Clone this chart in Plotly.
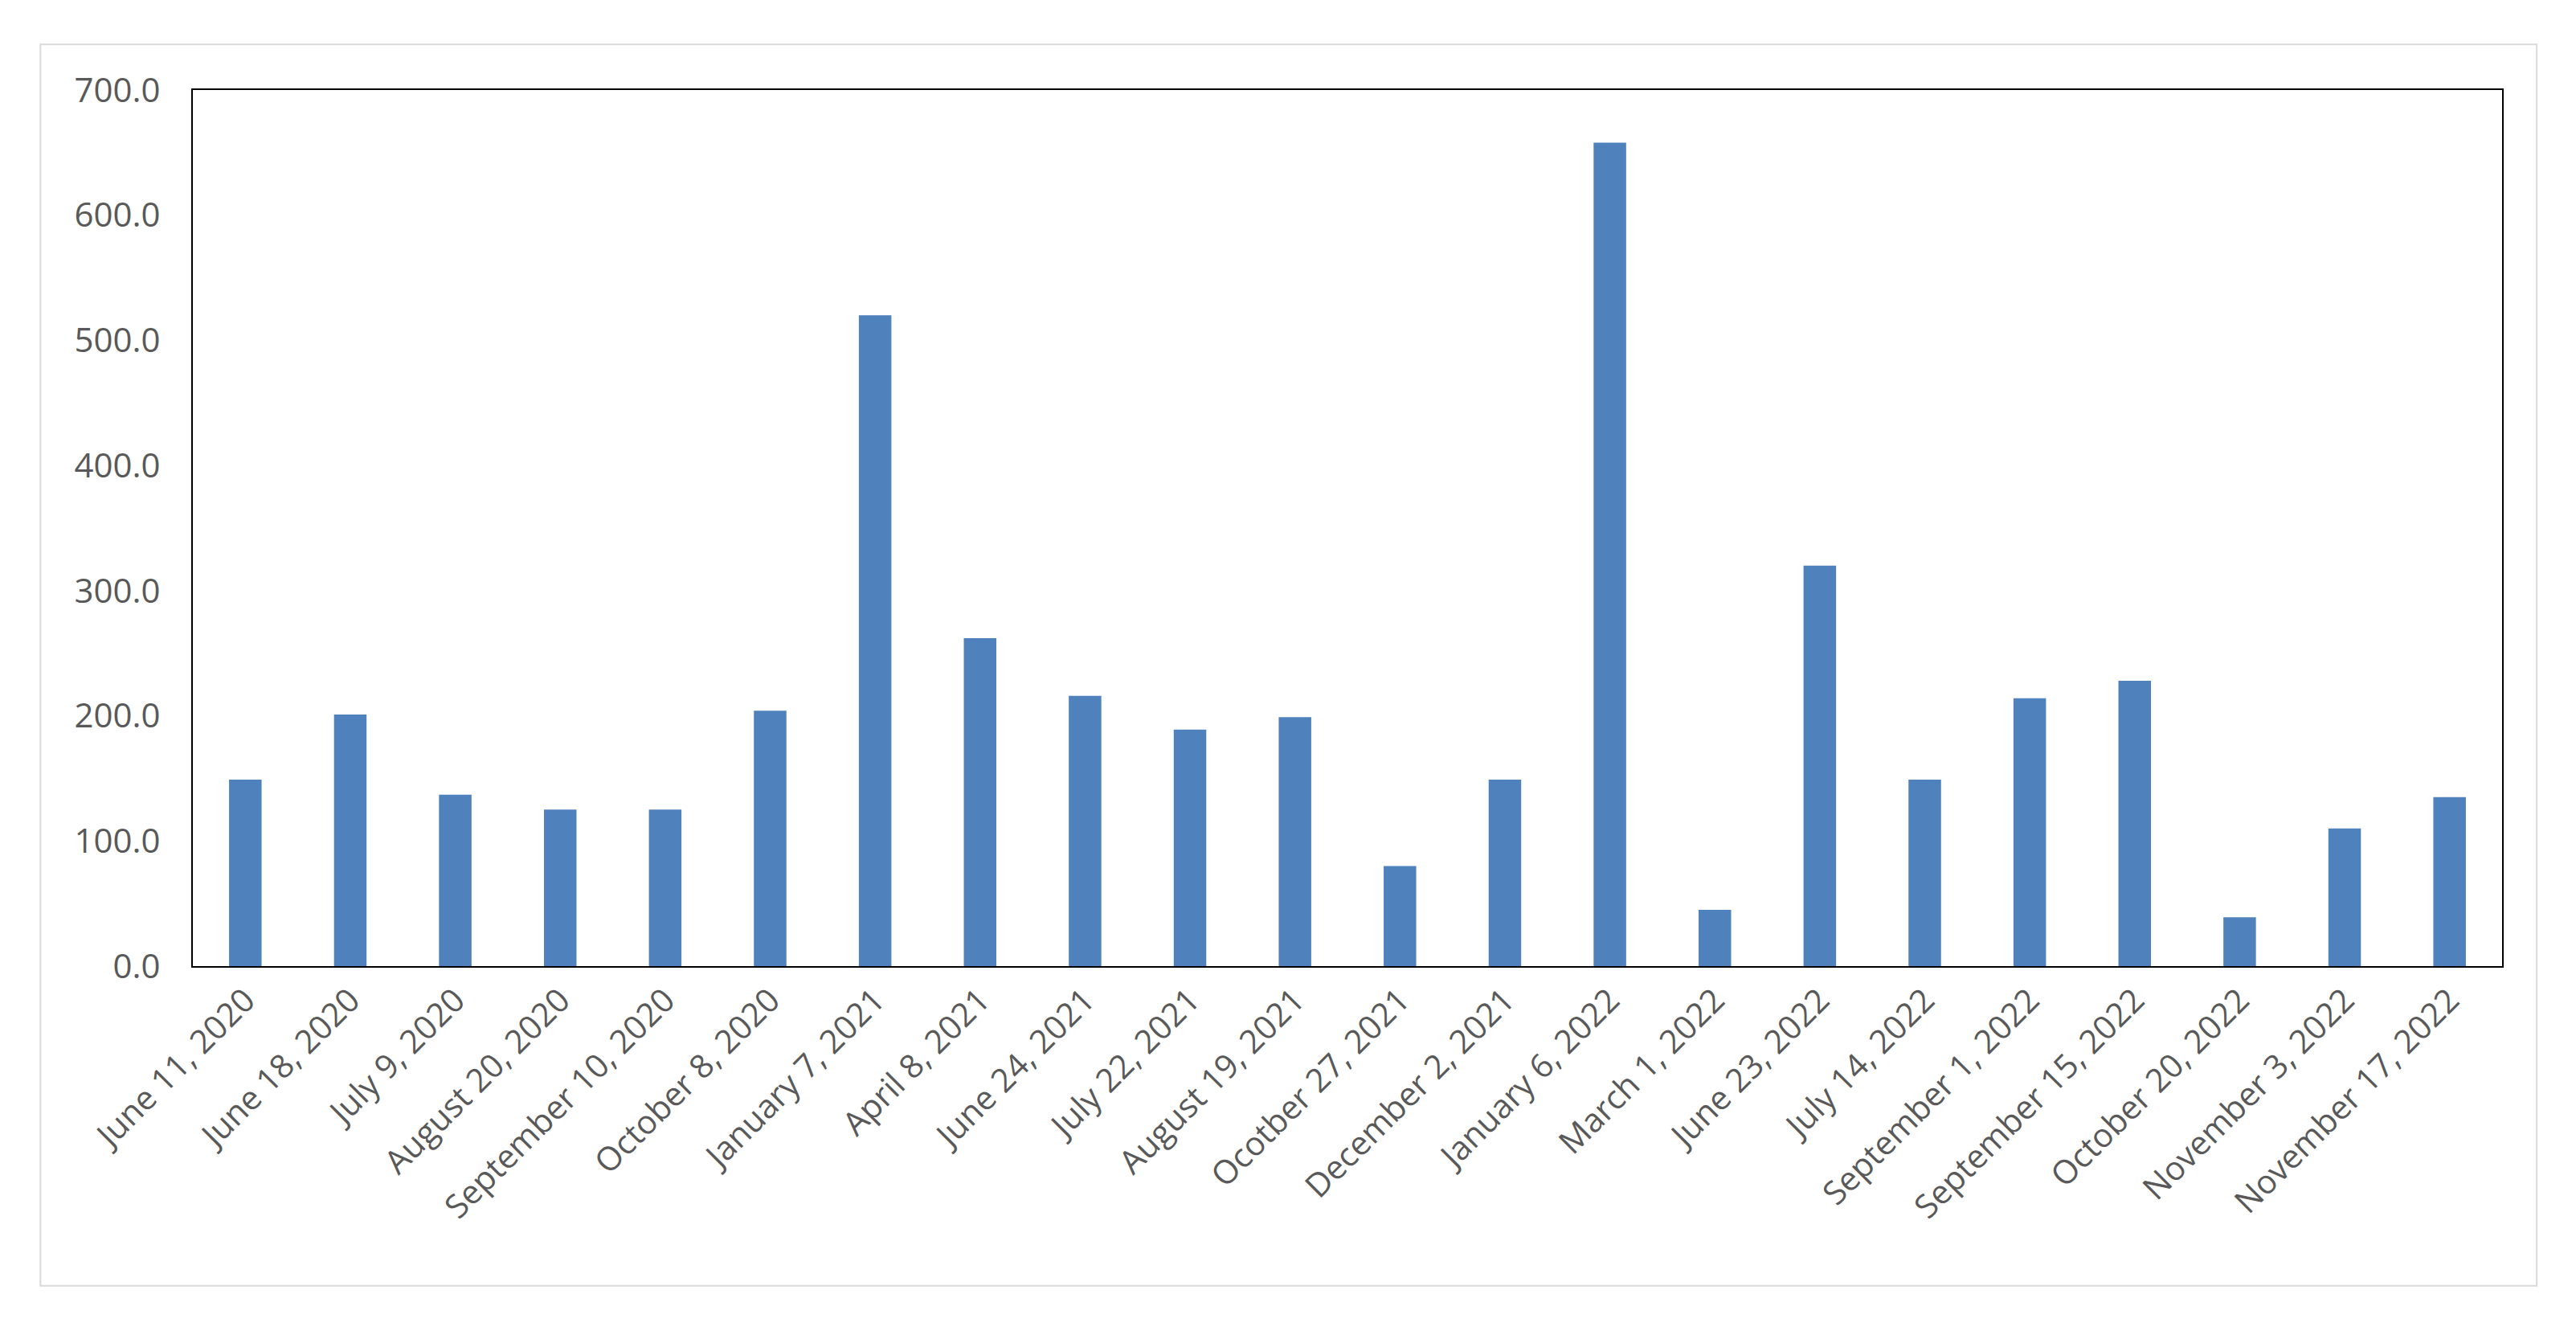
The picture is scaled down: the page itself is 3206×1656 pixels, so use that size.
import plotly.graph_objects as go

dates = ["June 11, 2020","June 18, 2020","July 9, 2020","August 20, 2020","September 10, 2020",
         "October 8, 2020","January 7, 2021","April 8, 2021","June 24, 2021","July 22, 2021",
         "August 19, 2021","Ocotber 27, 2021","December 2, 2021","January 6, 2022","March 1, 2022",
         "June 23, 2022","July 14, 2022","September 1, 2022","September 15, 2022","October 20, 2022",
         "November 3, 2022","November 17, 2022"]
values = [149, 201, 137, 125, 125, 204, 520, 262, 216, 189, 199, 80, 149, 658, 45,
          320, 149, 214, 228, 39, 110, 135]

fig = go.Figure(go.Bar(x=dates, y=values, marker=dict(color="#4F81BD", line=dict(width=0))))
fig.update_layout(
    width=3206, height=1656, paper_bgcolor="white", plot_bgcolor="white",
    margin=dict(l=232, r=100, t=104, b=462), bargap=0.69, showlegend=False,
    font=dict(family="Open Sans, Liberation Sans, sans-serif", color="#595959", size=42),
    shapes=[dict(type="rect", xref="paper", yref="paper", x0=-0.066, x1=1.015, y0=-0.365, y1=1.052,
                 line=dict(color="#D9D9D9", width=2))],
)
fig.update_xaxes(tickangle=-45, showline=True, linecolor="#000", linewidth=2, mirror=True,
                 ticks="", tickfont=dict(size=41))
fig.update_yaxes(range=[0, 700], dtick=100, tickformat=".1f", showgrid=False, showline=True,
                 linecolor="#000", linewidth=2, mirror=True, ticks="", tickfont=dict(size=42),
                 ticklabelstandoff=30)
fig.write_html("out.html")
